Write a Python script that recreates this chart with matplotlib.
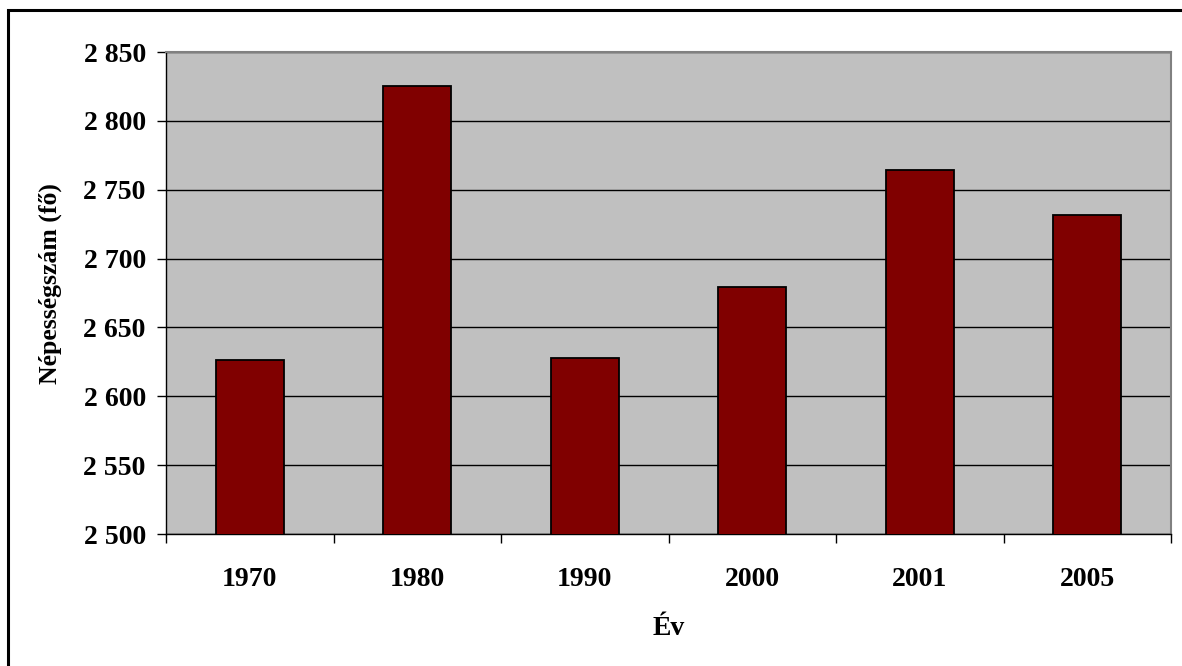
import matplotlib
matplotlib.use("Agg")
import matplotlib.pyplot as plt
import numpy as np
from matplotlib.patches import Rectangle

years = ["1970", "1980", "1990", "2000", "2001", "2005"]
population = [2626, 2825, 2628, 2679, 2764, 2732]
yticks = [2500, 2550, 2600, 2650, 2700, 2750, 2800, 2850]
ytick_labels = ["2 500", "2 550", "2 600", "2 650", "2 700", "2 750", "2 800", "2 850"]

plt.rcParams['font.family'] = ['Liberation Serif', 'DejaVu Serif']
plt.rcParams['font.weight'] = 'bold'

fig = plt.figure(figsize=(11.82, 6.66), dpi=100)
fig.patch.set_facecolor('white')
# outer frame (only top and left visible in the reference)
fig.add_artist(Rectangle((8 / 1182, -0.2), 1.2, 1.2 - 10 / 666,
                         transform=fig.transFigure, fill=False,
                         edgecolor='black', linewidth=2.2))

ax = fig.add_axes([166 / 1182, 1 - 534 / 666, 1005 / 1182, 482 / 666])
ax.set_facecolor('#C0C0C0')

x = np.arange(len(years))
ax.bar(x, population, width=0.406, color='#800000', edgecolor='black',
       linewidth=1.3, zorder=3)

ax.set_xlim(-0.5, len(years) - 0.5)
ax.set_ylim(2500, 2850)
ax.set_yticks(yticks)
ax.set_yticklabels(ytick_labels, fontsize=20, fontweight='bold')
ax.set_xticks(x)
ax.set_xticklabels(years, fontsize=20, fontweight='bold')
ax.set_xticks(np.arange(-0.5, len(years)), minor=True)
ax.tick_params(axis='x', which='major', length=0, pad=24)
ax.tick_params(axis='x', which='minor', length=6.5, width=1, direction='out')
ax.tick_params(axis='y', length=6.5, width=1, direction='out', pad=8)

ax.yaxis.grid(True, color='black', linewidth=1, zorder=1)
ax.set_axisbelow(True)

for side in ['left', 'bottom']:
    ax.spines[side].set_color('black')
    ax.spines[side].set_linewidth(1)
for side in ['top', 'right']:
    ax.spines[side].set_color('#808080')
    ax.spines[side].set_linewidth(1.5)

ax.set_xlabel("Év", fontsize=20, fontweight='bold')
ax.set_ylabel("Népességszám (fő)", fontsize=18.5, fontweight='bold')
ax.yaxis.set_label_coords(-0.103, 0.52)
ax.xaxis.set_label_coords(0.5, -0.17)

fig.savefig("out.png", dpi=100)
